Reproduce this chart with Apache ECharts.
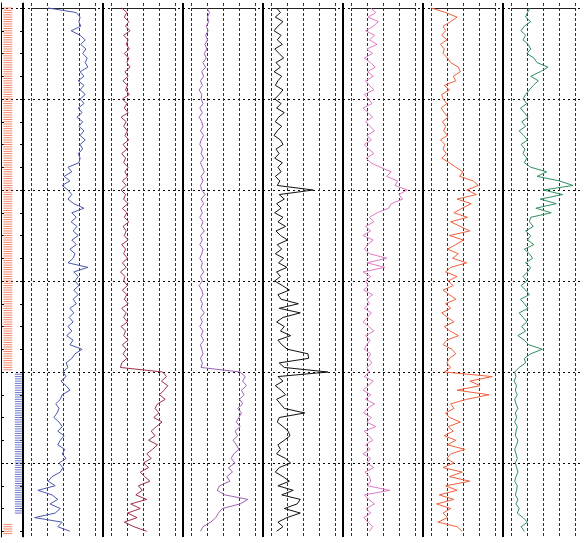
<!DOCTYPE html>
<html><head><meta charset="utf-8">
<script src="https://cdn.jsdelivr.net/npm/echarts@6/dist/echarts.min.js"></script>
<style>html,body{margin:0;padding:0;background:#fff}#c{width:584px;height:543px}</style>
</head><body><div id="c"></div>
<script>
// depth axis (arbitrary depth units, sample step 1)
const DEPTH_MIN = -1.1, DEPTH_MAX = 116.26, DEPTH_STEP = 1;
const minorTicks = [0,5,10,15,20,25,30,35,40,45,50,55,60,65,70,75,80,85,90,95,100,105,110,115];
const majorLines = [0,20,40,60,80,100];

// facies intervals [top, bottom, class]; markers every 0.5 units
const FACIES_STEP = 0.5;
const facies = [[0, 79.5, 'A'], [80.5, 111, 'B'], [113.5, 115.5, 'A']];

// curve values (track scale 0..100), one value per depth sample
const track1 = [26,70,76,74,77,62,76,84,77,85, 80,87,84,88,76,82,73,82,76,84, 76,82,73,79,71,80,74,82,76,84,
 76,80,73,76,74,57,63,51,60,48, 57,63,57,66,82,63,70,62,71,65, 73,63,70,60,68,65,57,88,66,73,
 68,74,66,73,65,70,60,66,59,65, 57,63,55,65,60,79,68,63,54,57, 49,54,46,54,60,48,45,38,43,40,
 35,43,48,41,51,45,41,52,48,54, 43,49,45,32,26,37,10,32,41,29, 45,37,5,48,41,60];
const track2 = [16,24,20,27,22,29,19,26,23,28, 20,27,24,29,21,26,18,25,22,28, 17,24,20,26,15,23,19,25,21,27,
 18,24,16,22,19,26,21,25,17,23, 15,22,19,26,17,24,20,27,18,23, 20,26,16,22,19,25,17,23,14,21,
 19,25,17,24,20,26,16,23,19,25, 15,22,19,26,17,23,18,24,16,14, 80,86,78,88,82,75,84,72,68,74,
 66,79,70,62,68,58,72,64,55,62, 50,58,45,52,60,42,48,38,55,30, 45,25,40,20,35,55];
const track3 = [24,28,25,27,23,26,22,25,21,24, 20,23,18,22,16,19,14,17,12,16, 15,18,13,17,12,16,18,14,19,15,
 13,17,15,19,14,17,20,15,18,14, 16,21,15,19,14,17,13,18,15,20, 14,17,13,18,16,13,17,15,19,14,
 17,12,16,18,14,17,15,20,14,17, 13,18,15,19,14,16,18,14,17,15, 76,84,80,86,78,82,75,80,72,78,
 74,70,76,68,72,65,70,74,66,62, 68,58,64,55,60,44,40,52,88,76, 48,42,38,30,18,14];
const track4 = [8,14,6,18,10,4,15,9,17,5, 12,19,7,14,4,16,10,6,18,12, 5,15,8,20,11,6,16,9,4,14,
 18,7,12,5,17,10,15,6,13,9, 65,12,20,8,15,5,18,10,22,7, 14,25,9,16,6,19,11,24,8,14,
 5,17,28,10,15,42,12,45,18,8, 20,14,30,10,16,25,57,58,12,20, 88,10,18,6,15,22,8,14,20,52,
 12,9,18,26,29,20,10,14,8,22, 30,12,6,18,28,10,34,16,45,40, 20,45,24,10,18,8];
const track5 = [30,38,26,42,34,22,36,28,40,24, 33,20,30,37,25,34,22,28,35,20, 27,32,18,26,33,22,29,36,24,31,
 20,27,35,23,30,45,62,55,72,68, 87,74,80,62,58,40,28,35,22,30, 18,34,25,20,28,55,24,52,18,30,
 22,26,19,33,24,28,20,31,25,18, 27,35,22,29,24,20,30,26,32,24, 28,20,34,26,18,30,22,36,25,19,
 31,24,38,20,27,33,22,29,18,30, 24,35,21,28,30,25,60,20,27,36, 23,30,19,26,33,28];
const track6 = [0,22,40,30,18,22,16,24,14,20, 18,25,30,42,45,34,38,20,28,16, 18,24,15,20,26,17,22,19,25,14,
 21,18,23,16,28,38,49,44,65,73, 55,70,40,62,48,35,56,30,45,60, 28,50,38,25,42,33,55,30,22,40,
 26,34,18,28,38,22,30,16,25,35, 20,29,42,24,18,32,38,28,24,30, 20,95,60,76,40,90,55,30,35,22,
 28,45,26,34,20,38,25,52,30,24, 35,18,48,28,60,22,40,12,35,8, 30,18,25,10,40,48];
const track7 = [29,25,22,30,20,15,22,18,26,30, 24,35,40,57,45,30,42,34,28,22, 18,24,14,20,26,16,22,12,19,25,
 15,21,18,24,20,30,55,40,75,96, 50,80,45,70,38,62,30,28,34,22, 30,25,35,20,28,33,22,30,25,18,
 24,15,22,28,14,20,26,12,18,24, 16,22,10,20,27,48,30,20,22,12, 5,7,4,8,6,9,5,7,10,6,
 8,5,9,7,6,10,8,5,7,9, 6,8,10,7,5,9,8,6,10,7, 12,9,18,25,15,20];

const tracks = [track1, track2, track3, track4, track5, track6, track7];
const trackColors = ['#4a58b0', '#a03048', '#a060b8', '#111111', '#e07ac8', '#f0603c', '#2f9060'];
const faciesColors = {A: '#f06a4a', B: '#4a58c0'};

// ---- layout ----
const TOP = 3, HEIGHT = 534;
const STRIP_LEFT = 1, STRIP_W = 22;
const TRACK0 = 23, TRACK_W = 80, INNER_OFF = 8.5, INNER_W = 64;

const grids = [], xAxes = [], yAxes = [], series = [];
const yBase = {type: 'value', inverse: true, min: DEPTH_MIN, max: DEPTH_MAX, axisLabel: {show: false}};
const dotted = {show: true, lineStyle: {color: '#000', width: 1, type: [2, 3]}};

// grid 0: facies strip
grids.push({left: STRIP_LEFT, top: TOP, width: STRIP_W, height: HEIGHT, outerBoundsMode: 'none'});
xAxes.push({type: 'value', gridIndex: 0, min: 0, max: 1, show: false});
yAxes.push(Object.assign({}, yBase, {gridIndex: 0, position: 'left',
  axisLine: {show: true, lineStyle: {color: '#000', width: 1}},
  axisTick: {show: true, inside: true, length: 3, customValues: minorTicks, lineStyle: {color: '#000'}},
  splitLine: {show: false}}));
yAxes.push(Object.assign({}, yBase, {gridIndex: 0, position: 'left',
  axisLine: {show: false}, axisTick: {show: false, customValues: majorLines}, splitLine: dotted}));

// grid 1: background for tracks (separators, dotted depth lines, right border)
grids.push({left: TRACK0, top: TOP, width: TRACK_W * 7, height: HEIGHT, outerBoundsMode: 'none'});
xAxes.push({type: 'value', gridIndex: 1, min: 0, max: 7, interval: 1,
  axisLine: {show: false}, axisTick: {show: false}, axisLabel: {show: false},
  splitLine: {show: true, showMaxLine: false, lineStyle: {color: '#000', width: 2}}});
yAxes.push(Object.assign({}, yBase, {gridIndex: 1, position: 'right',
  axisLine: {show: true, lineStyle: {color: '#000', width: 1}},
  axisTick: {show: true, inside: true, length: 3, customValues: minorTicks, lineStyle: {color: '#000'}},
  splitLine: {show: false}}));
yAxes.push(Object.assign({}, yBase, {gridIndex: 1, position: 'right',
  axisLine: {show: false}, axisTick: {show: false, customValues: majorLines}, splitLine: dotted}));

// track grids
tracks.forEach((vals, i) => {
  const g = grids.length;
  grids.push({left: TRACK0 + TRACK_W * i + INNER_OFF, top: TOP, width: INNER_W, height: HEIGHT, outerBoundsMode: 'none'});
  xAxes.push({type: 'value', gridIndex: g, min: 0, max: 100, interval: 25, position: 'bottom', offset: 4,
    axisLine: {show: true, lineStyle: {color: '#222', width: 1}},
    axisTick: {show: false}, axisLabel: {show: false},
    splitLine: {show: true, lineStyle: {color: '#333', width: 1, type: [3, 2]}}});
  yAxes.push(Object.assign({}, yBase, {gridIndex: g, show: false}));
  series.push({type: 'line', xAxisIndex: xAxes.length - 1, yAxisIndex: yAxes.length - 1,
    data: vals.map((v, k) => [v, k * DEPTH_STEP]), showSymbol: false, symbol: 'none',
    lineStyle: {width: 1, color: trackColors[i]}, z: 5, silent: true});
});

// facies markers
const faciesPts = {A: [], B: []};
facies.forEach(([t, b, c]) => {
  for (let d = t; d <= b + 1e-6; d += FACIES_STEP) faciesPts[c].push([c === 'A' ? 0.31 : 0.79, d]);
});
series.push({type: 'scatter', xAxisIndex: 0, yAxisIndex: 0, data: faciesPts.A, symbol: 'rect',
  symbolSize: [9, 1], itemStyle: {color: faciesColors.A}, silent: true});
series.push({type: 'scatter', xAxisIndex: 0, yAxisIndex: 0, data: faciesPts.B, symbol: 'rect',
  symbolSize: [7, 1], itemStyle: {color: faciesColors.B}, silent: true});

const chart = echarts.init(document.getElementById('c'), null, {renderer: 'canvas'});
chart.setOption({animation: false, backgroundColor: '#fff', grid: grids, xAxis: xAxes, yAxis: yAxes, series: series});
</script></body></html>
